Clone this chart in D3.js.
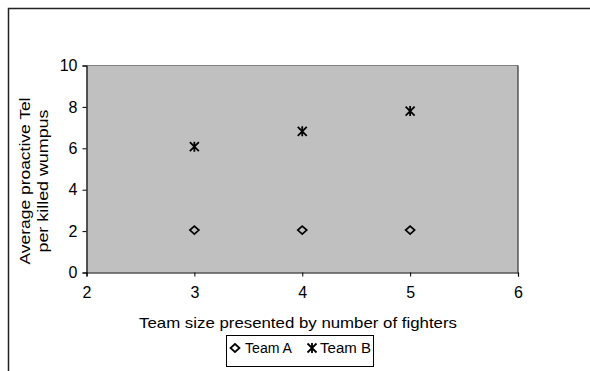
<!DOCTYPE html>
<html><head><meta charset="utf-8">
<script src="https://cdn.jsdelivr.net/npm/d3@7"></script>
<style>body{margin:0;background:#fff}svg{display:block}text{font-family:"Liberation Sans",Arial,sans-serif;fill:#000}</style>
</head><body>
<svg id="c" width="590" height="371"></svg>
<script>
const xTicks = [2, 3, 4, 5, 6];
const yTicks = [0, 2, 4, 6, 8, 10];
const teamSizes = [3, 4, 5];
const teamA = [2.05, 2.05, 2.05];
const teamB = [6.08, 6.82, 7.8];
const seriesNames = ["Team A", "Team B"];
const xTitle = "Team size presented by number of fighters";
const yTitle = ["Average proactive Tel", "per killed wumpus"];

const FONT = '"Liberation Sans",Arial,sans-serif';
const svg = d3.select("#c");
const L = 86.5, R = 518, T = 65.5, B = 272.5;
const x = d3.scaleLinear().domain([2, 6]).range([L, R]);
const y = d3.scaleLinear().domain([0, 10]).range([B, T]);

// outer border
svg.append("path").attr("d", "M8.5,371 V8.5 H590").attr("fill", "none").attr("stroke", "#222").attr("stroke-width", 1.5);

// plot area
svg.append("rect").attr("x", L).attr("y", T).attr("width", R - L).attr("height", B - T).attr("fill", "#c0c0c0");
svg.append("line").attr("x1", L).attr("x2", R).attr("y1", T).attr("y2", T).attr("stroke", "#808080").attr("stroke-width", 1);
svg.append("line").attr("x1", R).attr("x2", R).attr("y1", T).attr("y2", B).attr("stroke", "#333").attr("stroke-width", 1.2);

// axes
const xAxis = svg.append("g").attr("transform", `translate(0,${B})`)
  .call(d3.axisBottom(x).tickValues(xTicks).tickSize(4).tickPadding(10).tickFormat(d3.format("d")));
const yAxis = svg.append("g").attr("transform", `translate(${L},0)`)
  .call(d3.axisLeft(y).tickValues(yTicks).tickSize(4).tickPadding(5).tickFormat(d3.format("d")));
[xAxis, yAxis].forEach(g => {
  g.attr("font-size", null).attr("font-family", null);
  g.select(".domain").attr("stroke", "#000").attr("stroke-width", 1.2);
  g.selectAll(".tick line").attr("stroke", "#000");
  g.selectAll(".tick text").attr("font-family", FONT).attr("font-size", 16).attr("fill", "#000");
});

// markers
const diamond = (cx, cy) => `M${cx},${cy-4} L${cx+4.5},${cy} L${cx},${cy+4} L${cx-4.5},${cy} Z`;
const star = (cx, cy) => `M${cx-4.5},${cy-4.5} L${cx+4.5},${cy+4.5} M${cx+4.5},${cy-4.5} L${cx-4.5},${cy+4.5} M${cx},${cy-5} V${cy+5}`;

svg.append("g").selectAll("path").data(teamSizes.map((s, i) => [s, teamA[i]])).join("path")
  .attr("d", d => diamond(x(d[0]), y(d[1]))).attr("fill", "none").attr("stroke", "#000").attr("stroke-width", 1.7);
svg.append("g").selectAll("path").data(teamSizes.map((s, i) => [s, teamB[i]])).join("path")
  .attr("d", d => star(x(d[0]), y(d[1]))).attr("fill", "none").attr("stroke", "#000").attr("stroke-width", 1.8);

// axis titles
svg.append("text").attr("x", 298).attr("y", 328).attr("text-anchor", "middle")
  .attr("font-size", 15).attr("textLength", 318).attr("lengthAdjust", "spacingAndGlyphs").text(xTitle);
const yt = svg.append("g").attr("transform", "translate(0,181) rotate(-90)");
yt.append("text").attr("x", 0).attr("y", 29.5).attr("text-anchor", "middle").attr("font-size", 15)
  .attr("textLength", 167).attr("lengthAdjust", "spacingAndGlyphs").text(yTitle[0]);
yt.append("text").attr("x", 0).attr("y", 47.5).attr("text-anchor", "middle").attr("font-size", 15)
  .attr("textLength", 143).attr("lengthAdjust", "spacingAndGlyphs").text(yTitle[1]);

// legend
const lg = svg.append("g");
lg.append("rect").attr("x", 226.5).attr("y", 335.5).attr("width", 147).attr("height", 31).attr("fill", "#fff").attr("stroke", "#000");
lg.append("path").attr("d", diamond(235, 348)).attr("fill", "none").attr("stroke", "#000").attr("stroke-width", 1.7);
lg.append("text").attr("x", 245).attr("y", 353).attr("font-size", 14).attr("textLength", 47).attr("lengthAdjust", "spacingAndGlyphs").text(seriesNames[0]);
lg.append("path").attr("d", star(312, 348)).attr("fill", "none").attr("stroke", "#000").attr("stroke-width", 1.8);
lg.append("text").attr("x", 320).attr("y", 353).attr("font-size", 14).attr("textLength", 51).attr("lengthAdjust", "spacingAndGlyphs").text(seriesNames[1]);
</script>
</body></html>
